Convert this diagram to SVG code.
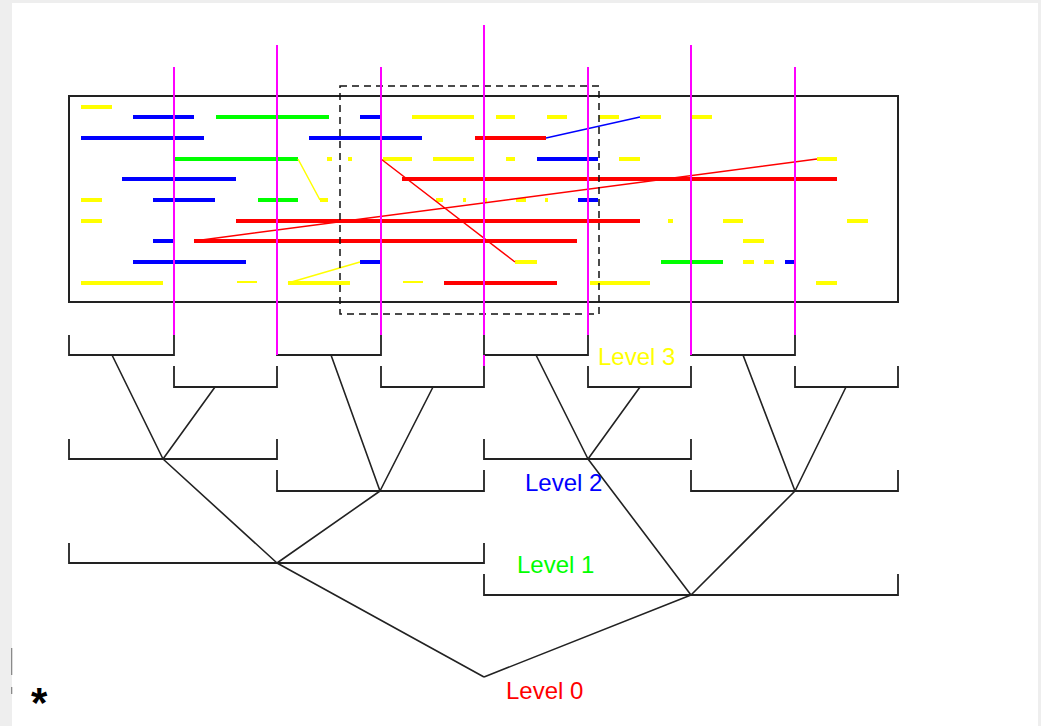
<svg xmlns="http://www.w3.org/2000/svg" width="1041" height="726" viewBox="0 0 1041 726">
<style>
.seg{fill:none;stroke-width:4;stroke-linecap:butt}
.thin{fill:none;stroke-width:1.5}
.y{stroke:#ffff00}.b{stroke:#0000ff}.g{stroke:#00ff00}.r{stroke:#ff0000}
.mag{fill:none;stroke:#ff00ff;stroke-width:2}
.br{fill:none;stroke:#222;stroke-width:1.8}
.tree{fill:none;stroke:#222;stroke-width:1.6}
.lbl{font-family:"Liberation Sans",Arial,sans-serif;font-size:24px}
</style>
<rect x="0" y="0" width="1041" height="726" fill="#eeeeee"/>
<rect x="12" y="3" width="1026" height="723" fill="#ffffff"/>
<rect x="11" y="648" width="1.3" height="27" fill="#8a8a8a"/>
<rect x="11" y="687" width="1.3" height="7" fill="#8a8a8a"/>

<g id="region">
<rect x="69" y="96" width="829" height="206" fill="none" stroke="#222" stroke-width="2"/>
</g>

<g id="segments">
<path class="seg y" d="M81 107H112M412 117H474M496 117H515M547 117H567M599 117H619M640 117H661M692 117H712M327 159H332M348 159H352M383 159H412M433 159H474M506 159H515M619 159H640M817 159H837M81 200H102M320 200H328M436 200H443M463 200H466M483 200H487M516 200H526M545 200H548M81 221H102M668 221H673M723 221H743M847 221H868M743 241H764M515 262H537M743 262H754M764 262H774M81 283H163M288 283H350M590 283H650M816 283H837"/>
<path class="y" fill="none" stroke-width="2" d="M237 282H257M403 282H423"/>
<path class="seg b" d="M133 117H194M360 117H380M81 138H204M309 138H422M537 159H598M122 179H236M153 200H215M578 200H598M153 241H173M133 262H246M360 262H380M785 262H796"/>
<path class="seg g" d="M216 117H329M174 159H298M258 200H298M661 262H723"/>
<path class="seg r" d="M475 138H546M402 179H837M236 221H640M194 241H577M444 283H557"/>
<path class="thin y" d="M298 159L320 200M288 283L360 262"/>
<path class="thin r" d="M194 241L817 159M381 159L515 262"/>
<path class="thin b" d="M546 138L640 117"/>
</g>

<g id="window">
<rect x="340" y="86" width="259" height="228" fill="none" stroke="#111" stroke-width="1.5" stroke-dasharray="7,5"/>
</g>

<g id="brackets">
<g id="l3-0"><path class="br" d="M69 335V355H174V335"/></g>
<g id="l3-1"><path class="br" d="M174 366V387H277V366"/></g>
<g id="l3-2"><path class="br" d="M277 335V355H381V335"/></g>
<g id="l3-3"><path class="br" d="M381 366V387H484V366"/></g>
<g id="l3-4"><path class="br" d="M484 335V355H588V335"/></g>
<g id="l3-5"><path class="br" d="M588 366V387H691V366"/></g>
<g id="l3-6"><path class="br" d="M691 335V355H795V335"/></g>
<g id="l3-7"><path class="br" d="M795 366V387H898V366"/></g>
<g id="l2-0"><path class="br" d="M69 439V459H277V439"/></g>
<g id="l2-1"><path class="br" d="M277 470V491H484V470"/></g>
<g id="l2-2"><path class="br" d="M484 439V459H691V439"/></g>
<g id="l2-3"><path class="br" d="M691 470V491H898V470"/></g>
<g id="l1-0"><path class="br" d="M69 543V563H484V543"/></g>
<g id="l1-1"><path class="br" d="M484 574V595H898V574"/></g>
</g>

<g id="probes">
<path class="mag" d="M174 67V335M277 45V355M381 67V335M484 25V335M484 355V366M588 67V335M691 45V355M795 67V335"/>
</g>

<g id="connectors">
<path class="tree" d="M112 355L163 459M215 387L163 459M331 355L380 491M433 387L380 491M536 355L588 459M640 387L588 459M743 355L795 491M846 387L795 491"/>
<path class="tree" d="M163 459L277 563M380 491L277 563M588 459L691 595M795 491L691 595"/>
<path class="tree" d="M277 563L484 677M691 595L484 677"/>
</g>

<g id="labels">
<text class="lbl" x="598" y="365" fill="#ffff00">Level 3</text>
<text class="lbl" x="525" y="491" fill="#0000ff">Level 2</text>
<text class="lbl" x="517" y="573" fill="#00ff00">Level 1</text>
<text class="lbl" x="506" y="699" fill="#ff0000">Level 0</text>
<text x="31" y="717" font-family="Liberation Sans,Arial,sans-serif" font-weight="bold" font-size="42" fill="#000">*</text>
</g>
</svg>
